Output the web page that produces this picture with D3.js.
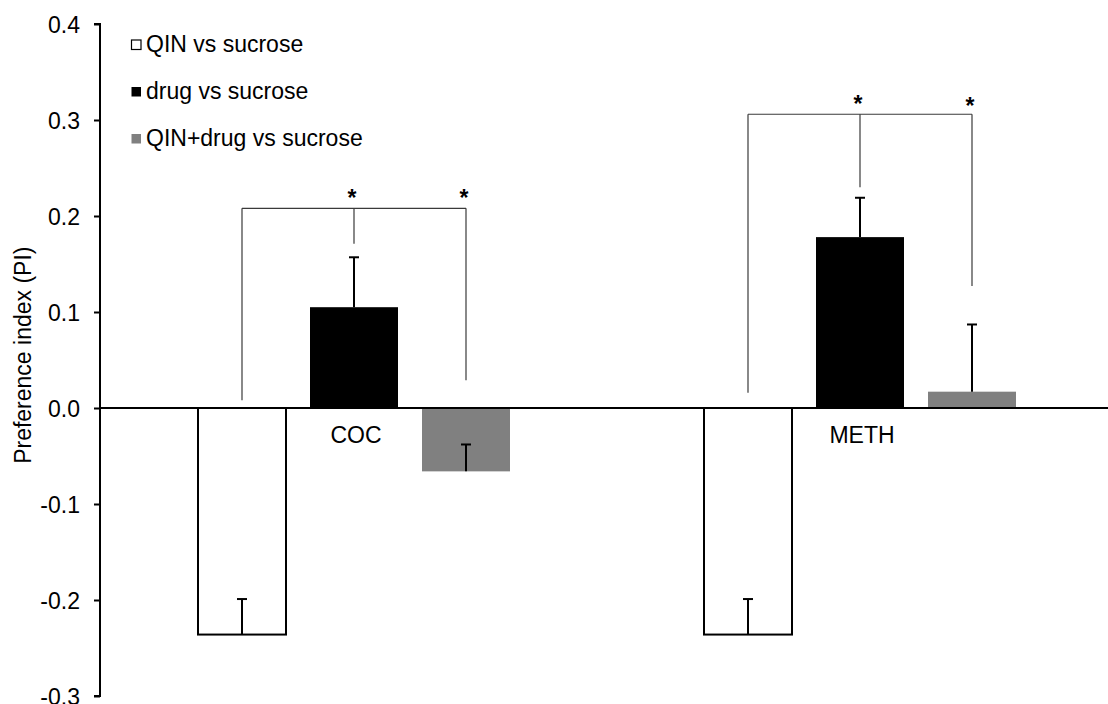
<!DOCTYPE html>
<html>
<head>
<meta charset="utf-8">
<script src="https://cdn.jsdelivr.net/npm/d3@7"></script>
<style>
  html, body { margin: 0; padding: 0; background: #fff; }
  svg { display: block; font-family: Arial, "Liberation Sans", sans-serif; }
</style>
</head>
<body>
<svg id="chart" width="1108" height="704"></svg>
<script>
// Drug groups on the x axis
const categories = ["COC", "METH"];
// Series shown side by side in each group
const seriesNames = ["QIN vs sucrose", "drug vs sucrose", "QIN+drug vs sucrose"];
const seriesFill = ["#ffffff", "#000000", "#808080"];
// Mean preference index, one array per series (COC, METH)
const qinValues = [-0.236, -0.236];
const drugValues = [0.105, 0.178];
const comboValues = [-0.066, 0.017];
// Error bar lengths (SEM), drawn in the plus direction
const qinErr = [0.037, 0.037];
const drugErr = [0.052, 0.041];
const comboErr = [0.028, 0.070];
// Y axis ticks
const yTicks = [-0.3, -0.2, -0.1, 0.0, 0.1, 0.2, 0.3, 0.4];
// Significance brackets: bracket level and where each leg stops (data units)
const bracketLevel = [0.208, 0.306];
const bracketLegEnds = [[0.008, 0.171, 0.029], [0.016, 0.23, 0.127]];
const bracketStars = [[false, true, true], [false, true, true]];

const values = [qinValues, drugValues, comboValues];
const errors = [qinErr, drugErr, comboErr];
const FONT = 23;

const svg = d3.select("#chart");

const y = d3.scaleLinear().domain([-0.3, 0.4]).range([696, 24]);
const x0 = d3.scaleBand().domain(categories).range([101, 1113]);
const x1 = d3.scaleBand().domain(d3.range(seriesNames.length))
  .range([-156, 156]).paddingInner(24 / 112);

const center = c => x0(c) + x0.bandwidth() / 2;
const barMid = (c, s) => center(c) + x1(s) + x1.bandwidth() / 2;

// Tick labels use a plain hyphen for negatives
const fmt = d => (d < 0 ? "-" : "") + Math.abs(d).toFixed(1);

// Y axis
const yAxis = d3.axisLeft(y).tickValues(yTicks).tickSize(6).tickPadding(14)
  .tickFormat(fmt);
const gy = svg.append("g").attr("transform", "translate(100,0)").call(yAxis);
gy.select(".domain").attr("stroke", "#000").attr("stroke-width", 2)
  .attr("d", `M-6,${y(0.4)}H0V${y(-0.3)}H-6`);
gy.selectAll(".tick line").attr("stroke", "#000").attr("stroke-width", 2);
gy.selectAll(".tick text").attr("font-size", FONT).attr("fill", "#000")
  .attr("font-family", "Arial, 'Liberation Sans', sans-serif")
  .attr("dy", "0.35em");

// Y axis title
svg.append("text")
  .attr("transform", `translate(31,${y(0.055)}) rotate(-90)`)
  .attr("text-anchor", "middle")
  .attr("font-size", FONT)
  .attr("fill", "#000")
  .text("Preference index (PI)");

// Bars
seriesNames.forEach((name, s) => {
  svg.append("g").selectAll("rect")
    .data(categories)
    .join("rect")
    .attr("x", c => center(c) + x1(s))
    .attr("width", x1.bandwidth())
    .attr("y", (c, i) => y(Math.max(0, values[s][i])))
    .attr("height", (c, i) => Math.abs(y(values[s][i]) - y(0)))
    .attr("fill", seriesFill[s])
    .attr("stroke", s === 0 ? "#000" : "none")
    .attr("stroke-width", 2);
});

// Error bars (plus direction only)
seriesNames.forEach((name, s) => {
  const g = svg.append("g").attr("stroke", "#000").attr("stroke-width", 2);
  categories.forEach((c, i) => {
    const xm = barMid(c, s);
    const v = values[s][i];
    const e = v + errors[s][i];
    g.append("line").attr("x1", xm).attr("x2", xm).attr("y1", y(v)).attr("y2", y(e));
    g.append("line").attr("x1", xm - 5).attr("x2", xm + 5).attr("y1", y(e)).attr("y2", y(e));
  });
});

// X axis line at zero
svg.append("line")
  .attr("x1", 100).attr("x2", 1108)
  .attr("y1", y(0)).attr("y2", y(0))
  .attr("stroke", "#000").attr("stroke-width", 2);

// Category labels
svg.append("g").selectAll("text")
  .data(categories)
  .join("text")
  .attr("x", c => center(c) + 2)
  .attr("y", y(0) + 35)
  .attr("text-anchor", "middle")
  .attr("font-size", FONT)
  .attr("fill", "#000")
  .text(c => c);

// Significance brackets
categories.forEach((c, i) => {
  const g = svg.append("g").attr("stroke", "#3a3a3a").attr("stroke-width", 1.2).attr("fill", "none");
  const top = y(bracketLevel[i]);
  const legs = seriesNames.map((n, s) => barMid(c, s));
  g.append("line").attr("x1", legs[0]).attr("x2", legs[2]).attr("y1", top).attr("y2", top);
  legs.forEach((lx, s) => {
    g.append("line").attr("x1", lx).attr("x2", lx).attr("y1", top).attr("y2", y(bracketLegEnds[i][s]));
    if (bracketStars[i][s]) {
      svg.append("text")
        .attr("x", lx - 2)
        .attr("y", top - 2 + (s === 2 && i === 1 ? 2 : 0))
        .attr("text-anchor", "middle")
        .attr("font-size", 23)
        .attr("font-weight", "bold")
        .attr("fill", "#000")
        .text("*");
    }
  });
});

// Legend
const legend = svg.append("g");
seriesNames.forEach((name, s) => {
  const base = 52 + s * 47;
  legend.append("rect")
    .attr("x", 131.5).attr("y", base - 12)
    .attr("width", 9.5).attr("height", 9.5)
    .attr("fill", seriesFill[s])
    .attr("stroke", s === 0 ? "#000" : "none")
    .attr("stroke-width", 1.2);
  legend.append("text")
    .attr("x", 146).attr("y", base)
    .attr("font-size", FONT)
    .attr("fill", "#000")
    .text(name);
});
</script>
</body>
</html>
